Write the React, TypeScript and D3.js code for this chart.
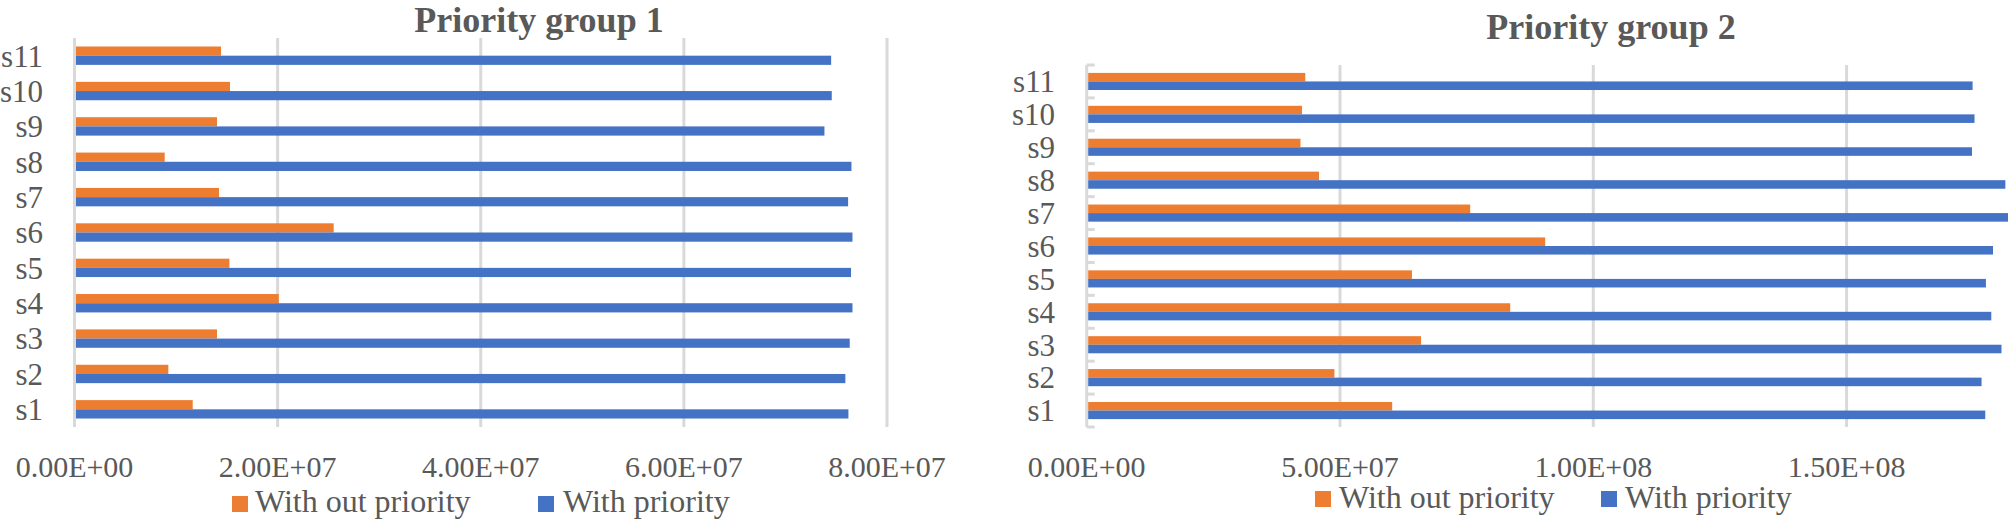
import React from "react";
import * as d3 from "d3";

const categories = ["s1", "s2", "s3", "s4", "s5", "s6", "s7", "s8", "s9", "s10", "s11"];
const seriesNames = ["With out priority", "With priority"];

const group1WithoutPriority = [1.164e7, 0.924e7, 1.403e7, 2.011e7, 1.525e7, 2.552e7, 1.423e7, 0.888e7, 1.403e7, 1.531e7, 1.443e7];
const group1WithPriority = [7.62e7, 7.59e7, 7.633e7, 7.66e7, 7.646e7, 7.66e7, 7.617e7, 7.65e7, 7.384e7, 7.456e7, 7.45e7];

const group2WithoutPriority = [6.03e7, 4.89e7, 6.6e7, 8.36e7, 6.42e7, 9.05e7, 7.57e7, 4.585e7, 4.22e7, 4.25e7, 4.315e7];
const group2WithPriority = [1.7737e8, 1.7664e8, 1.8057e8, 1.7856e8, 1.775e8, 1.789e8, 1.83e8, 1.8134e8, 1.7475e8, 1.7525e8, 1.7487e8];

const ticks1 = [0, 2e7, 4e7, 6e7, 8e7];
const ticks2 = [0, 5e7, 1e8, 1.5e8];

const COLORS = ["#ED7D31", "#4472C4"];
const TEXT = "#595959";
const GRID = "#d9d9d9";
const FONT = "'Liberation Serif', 'Times New Roman', serif";

function sci(v: number): string {
  if (v === 0) return "0.00E+00";
  let e = Math.floor(Math.log10(Math.abs(v)));
  let m = v / Math.pow(10, e);
  if (Math.abs(m) >= 9.995) {
    e += 1;
    m = v / Math.pow(10, e);
  }
  const es = (e < 0 ? "-" : "+") + String(Math.abs(e)).padStart(2, "0");
  return m.toFixed(2) + "E" + es;
}

type PanelProps = {
  title: string;
  titleX: number;
  titleY: number;
  x0: number;
  x1: number;
  domainMax: number;
  top: number;
  bottom: number;
  ticks: number[];
  a: number[];
  b: number[];
  labelRight: number;
  innerTicks: boolean;
  legendX: number[];
  legendTextX: number[];
  legendSquareY: number;
  legendBaseline: number;
  clipId: string;
  clipRight: number;
};

function Panel(p: PanelProps) {
  const x = d3.scaleLinear().domain([0, p.domainMax]).range([p.x0, p.x1]);
  const y = d3
    .scaleBand<string>()
    .domain([...categories].reverse())
    .range([p.top, p.bottom])
    .paddingInner(0.48)
    .paddingOuter(0.24);
  const sub = d3.scaleBand<string>().domain(seriesNames).range([0, y.bandwidth()]);
  const step = y.step();
  const outerPad = y.paddingOuter() * step;
  const bandStart = (c: string) => (y(c) as number) - outerPad;
  const data = [p.a, p.b];

  return (
    <g>
      <text
        x={p.titleX}
        y={p.titleY}
        textAnchor="middle"
        fontFamily={FONT}
        fontWeight="bold"
        fontSize={36}
        fill={TEXT}
      >
        {p.title}
      </text>
      <clipPath id={p.clipId}>
        <rect x={0} y={0} width={p.clipRight} height={520} />
      </clipPath>
      <g clipPath={`url(#${p.clipId})`}>
        {p.ticks.map((t) => (
          <line
            key={"g" + t}
            x1={x(t)}
            x2={x(t)}
            y1={p.top}
            y2={p.bottom}
            stroke={GRID}
            strokeWidth={3}
          />
        ))}
        {p.innerTicks &&
          [...categories.map((c) => bandStart(c)), p.bottom].map((yy, i) => (
            <line
              key={"t" + i}
              x1={x(0)}
              x2={x(0) + 8}
              y1={yy}
              y2={yy}
              stroke={GRID}
              strokeWidth={3}
            />
          ))}
        {seriesNames.map((s, si) =>
          categories.map((c, ci) => (
            <rect
              key={s + c}
              x={x(0) + 1.5}
              y={(y(c) as number) + (sub(s) as number)}
              width={Math.max(0, x(data[si][ci]) - x(0) - 1.5)}
              height={sub.bandwidth()}
              fill={COLORS[si]}
            />
          ))
        )}
      </g>
      {categories.map((c) => (
        <text
          key={"l" + c}
          x={p.labelRight}
          y={(y(c) as number) + y.bandwidth() / 2}
          dy="0.35em"
          textAnchor="end"
          fontFamily={FONT}
          fontSize={31}
          fill={TEXT}
        >
          {c}
        </text>
      ))}
      {p.ticks.map((t) => (
        <text
          key={"x" + t}
          x={x(t)}
          y={477}
          textAnchor="middle"
          fontFamily={FONT}
          fontSize={30}
          fill={TEXT}
        >
          {sci(t)}
        </text>
      ))}
      {seriesNames.map((s, si) => (
        <g key={"lg" + s}>
          <rect x={p.legendX[si]} y={p.legendSquareY} width={16} height={16} fill={COLORS[si]} />
          <text
            x={p.legendTextX[si]}
            y={p.legendBaseline}
            fontFamily={FONT}
            fontSize={32}
            fill={TEXT}
          >
            {s}
          </text>
        </g>
      ))}
    </g>
  );
}

export default function App() {
  return (
    <svg
      width={2008}
      height={520}
      style={{ position: "absolute", left: 0, top: 0, background: "#fff" }}
    >
      <rect x={0} y={0} width={2008} height={520} fill="#fff" />
      <Panel
        title="Priority group 1"
        titleX={539}
        titleY={32}
        x0={74.5}
        x1={887}
        domainMax={8e7}
        top={38}
        bottom={427}
        ticks={ticks1}
        a={group1WithoutPriority}
        b={group1WithPriority}
        labelRight={43}
        innerTicks={false}
        legendX={[232, 538]}
        legendTextX={[255, 563]}
        legendSquareY={496}
        legendBaseline={512}
        clipId="c1"
        clipRight={1000}
      />
      <Panel
        title="Priority group 2"
        titleX={1611}
        titleY={39}
        x0={1086.7}
        x1={1086.7 + 4 * 253.3}
        domainMax={2e8}
        top={65}
        bottom={427}
        ticks={ticks2}
        a={group2WithoutPriority}
        b={group2WithPriority}
        labelRight={1055}
        innerTicks={true}
        legendX={[1315, 1601]}
        legendTextX={[1339, 1625]}
        legendSquareY={491}
        legendBaseline={508}
        clipId="c2"
        clipRight={2008}
      />
    </svg>
  );
}
